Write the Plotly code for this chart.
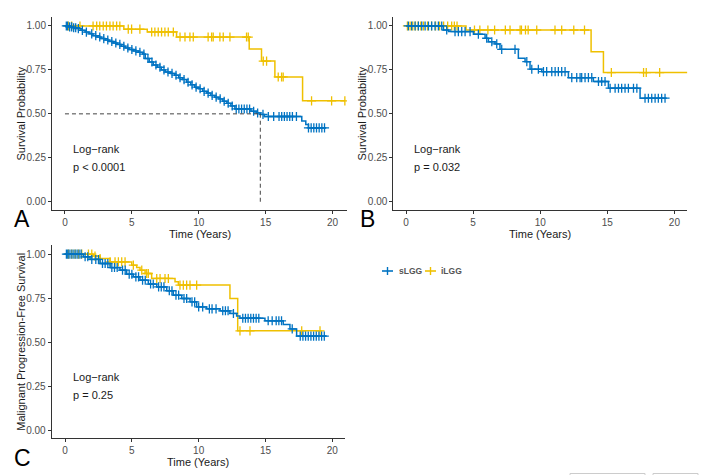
import numpy as np
import plotly.graph_objects as go

W, H = 711, 475
BLUE = "#0073C2"
YELLOW = "#EFC000"
FONT = "Liberation Sans, Arial, sans-serif"

# ---------------- data ----------------
groups = ["sLGG", "iLGG"]

# Panel A: overall survival
a_slgg_t = [0.3, 0.6, 0.9, 1.2, 1.5, 1.8, 2.1, 2.4, 2.7, 3.0, 3.3, 3.6, 3.9, 4.2, 4.5, 4.8, 5.1, 5.5, 5.8,
            6.0, 6.3, 6.6, 6.9, 7.2, 7.5, 7.9, 8.2, 8.5, 8.8, 9.1, 9.4, 9.7, 10.0, 10.3, 10.6, 10.9, 11.2,
            11.5, 11.8, 12.1, 12.4, 12.7, 13.9, 14.3, 14.6, 14.9, 17.7, 18.0, 18.2]
a_slgg_s = [0.995, 0.99, 0.985, 0.975, 0.965, 0.955, 0.945, 0.937, 0.928, 0.92, 0.912, 0.903, 0.895, 0.885,
            0.875, 0.866, 0.858, 0.85, 0.84, 0.815, 0.795, 0.778, 0.765, 0.75, 0.738, 0.73, 0.72, 0.705,
            0.695, 0.68, 0.665, 0.652, 0.643, 0.628, 0.618, 0.605, 0.595, 0.585, 0.572, 0.56, 0.545, 0.528,
            0.515, 0.505, 0.497, 0.485, 0.46, 0.44, 0.42]
a_slgg_end = 19.5
a_slgg_cens = [0.1, 0.2, 0.35, 0.5, 0.65, 0.8, 1.0, 1.3, 1.6, 2.0, 2.3, 2.6, 2.9, 3.2, 3.5, 3.8, 4.1, 4.4,
               4.7, 5.0, 5.3, 5.6, 5.9, 6.2, 6.5, 6.8, 7.1, 7.4, 7.7, 8.0, 8.3, 8.6, 8.9, 9.2, 9.5, 9.8,
               10.1, 10.4, 10.7, 11.0, 11.3, 11.6, 11.9, 12.2, 12.5, 12.8, 13.0, 13.2, 13.4, 13.6, 13.8,
               14.1, 14.4, 14.8, 15.2, 15.6, 16.0, 16.2, 16.4, 16.6, 16.8, 17.0, 17.3, 18.2, 18.4, 18.6,
               18.8, 19.0, 19.2, 19.4]

a_ilgg_t = [4.4, 6.15, 8.34, 13.77, 14.69, 15.69, 17.76]
a_ilgg_s = [0.982, 0.966, 0.937, 0.869, 0.80, 0.71, 0.574]
a_ilgg_end = 20.92
a_ilgg_cens = [0.25, 0.5, 1.12, 2.1, 2.37, 2.6, 2.86, 3.1, 3.36, 3.6, 3.86, 4.1, 4.73, 4.98, 5.6, 6.48,
               6.72, 6.97, 7.22, 7.47, 7.72, 8.1, 8.6, 8.97, 9.34, 9.59, 10.7, 10.96, 11.08, 11.58, 11.83,
               12.33, 13.57, 13.7, 14.82, 15.07, 15.94, 16.19, 16.31, 18.43, 19.93, 20.92]
a_median = 14.6

# Panel B
b_slgg_t = [2.78, 3.16, 5.02, 5.89, 6.14, 6.63, 7.0, 8.37, 8.87, 9.24, 10.11, 12.1, 13.96, 15.08, 17.44]
b_slgg_s = [0.977, 0.968, 0.953, 0.93, 0.91, 0.898, 0.867, 0.816, 0.797, 0.754, 0.74, 0.706, 0.684,
            0.646, 0.589]
b_slgg_end = 19.43
b_slgg_cens = [0.17, 0.42, 0.67, 0.92, 1.17, 1.42, 1.67, 1.91, 2.16, 2.41, 2.66, 3.03, 3.65, 3.9, 4.15,
               4.4, 4.77, 5.39, 6.01, 6.39, 6.76, 7.13, 8.12, 9.0, 9.37, 9.86, 10.24, 10.48, 10.86, 11.11,
               11.35, 11.6, 11.85, 12.35, 12.72, 12.97, 13.09, 13.34, 13.59, 13.84, 14.34, 14.58, 14.83,
               15.21, 15.58, 15.83, 16.07, 16.32, 16.57, 16.95, 17.2, 17.81, 18.06, 18.31, 18.56, 18.8,
               19.05, 19.3]

b_ilgg_t = [4.47, 13.79, 14.71]
b_ilgg_s = [0.977, 0.854, 0.735]
b_ilgg_end = 20.97
b_ilgg_cens = [0.1, 0.3, 0.5, 0.7, 0.9, 1.1, 1.3, 1.6, 1.9, 2.2, 2.5, 2.8, 3.1, 3.4, 3.6, 3.8, 5.1, 5.5,
               6.1, 6.6, 7.4, 7.75, 8.5, 8.6, 8.9, 9.1, 9.74, 11.1, 11.6, 12.5, 13.3, 15.3, 17.7, 17.9, 18.9]

# Panel C: malignant progression-free survival
c_slgg_t = [1.37, 1.87, 2.62, 3.37, 4.11, 4.61, 5.11, 5.61, 6.23, 6.86, 7.61, 8.1, 8.73, 9.35, 9.85,
            10.6, 11.6, 12.34, 12.84, 13.09, 14.96, 16.33, 16.83, 17.33]
c_slgg_s = [0.985, 0.97, 0.947, 0.924, 0.909, 0.886, 0.871, 0.852, 0.83, 0.814, 0.792, 0.767, 0.748,
            0.729, 0.70, 0.689, 0.678, 0.663, 0.648, 0.636, 0.621, 0.60, 0.575, 0.534]
c_slgg_end = 19.58
c_slgg_cens = [0.1, 0.2, 0.3, 0.45, 0.6, 0.75, 0.9, 1.05, 1.2, 1.5, 1.7, 2.0, 2.3, 2.5, 2.8, 3.0, 3.2,
               3.5, 3.7, 3.9, 4.3, 4.5, 4.8, 5.0, 5.3, 5.5, 5.8, 6.0, 6.4, 6.6, 7.0, 7.2, 7.4, 7.8, 8.0,
               8.3, 8.5, 8.9, 9.1, 9.5, 9.7, 10.0, 10.3, 10.8, 11.0, 11.3, 11.8, 12.0, 12.2, 12.6, 13.3,
               13.5, 13.7, 13.9, 14.1, 14.3, 14.5, 15.2, 15.5, 15.8, 16.0, 16.2, 17.0, 17.6, 17.8, 18.0,
               18.2, 18.4, 18.6, 18.8, 19.0, 19.2, 19.4]

c_ilgg_t = [2.12, 2.62, 3.37, 4.99, 5.36, 5.61, 5.99, 6.48, 8.23, 8.48, 12.34, 12.92]
c_ilgg_s = [0.989, 0.975, 0.956, 0.9375, 0.924, 0.909, 0.89, 0.862, 0.843, 0.824, 0.748, 0.564]
c_ilgg_end = 19.2
c_ilgg_cens = [0.25, 0.5, 0.75, 1.0, 1.25, 1.75, 2.0, 2.24, 2.62, 3.37, 3.74, 3.99, 4.24, 4.49, 5.11,
               5.74, 6.11, 6.23, 6.86, 7.11, 7.48, 7.73, 8.6, 8.85, 9.1, 9.35, 9.85, 13.09, 13.84, 17.71,
               19.08]

pvals = ["p < 0.0001", "p = 0.032", "p = 0.25"]
xtitle = "Time (Years)"
ytitles = ["Survival Probability", "Survival Probability", "Malignant Progression-Free Survival"]
letters = ["A", "B", "C"]
xticks = [0, 5, 10, 15, 20]
yticks = [0, 0.25, 0.5, 0.75, 1.0]
yticklabels = ["0.00", "0.25", "0.50", "0.75", "1.00"]

# ---------------- figure ----------------
fig = go.Figure()


def surv_at(times, survs, t):
    t_arr = np.asarray(times)
    s_arr = np.concatenate([[1.0], np.asarray(survs)])
    idx = np.searchsorted(t_arr, np.asarray(t), side="right")
    return s_arr[idx]


def add_km(times, survs, end, cens, color, xa, ya, name):
    x = [0.0] + list(times) + [end]
    y = [1.0] + list(survs) + [survs[-1]]
    fig.add_trace(go.Scatter(x=x, y=y, mode="lines", line=dict(color=color, width=1.5, shape="hv"),
                             xaxis=xa, yaxis=ya, name=name, showlegend=False, hoverinfo="skip"))
    fig.add_trace(go.Scatter(x=cens, y=surv_at(times, survs, cens), mode="markers",
                             marker=dict(symbol="cross-thin", size=6.5, line=dict(color=color, width=1.3)),
                             xaxis=xa, yaxis=ya, name=name, showlegend=False, hoverinfo="skip"))


panels = [
    ("x", "y", (a_slgg_t, a_slgg_s, a_slgg_end, a_slgg_cens), (a_ilgg_t, a_ilgg_s, a_ilgg_end, a_ilgg_cens)),
    ("x2", "y2", (b_slgg_t, b_slgg_s, b_slgg_end, b_slgg_cens), (b_ilgg_t, b_ilgg_s, b_ilgg_end, b_ilgg_cens)),
    ("x3", "y3", (c_slgg_t, c_slgg_s, c_slgg_end, c_slgg_cens), (c_ilgg_t, c_ilgg_s, c_ilgg_end, c_ilgg_cens)),
]
for xa, ya, s_data, i_data in panels:
    add_km(*i_data, YELLOW, xa, ya, groups[1])
    add_km(*s_data, BLUE, xa, ya, groups[0])


# pixel geometry -> paper
def px(x):
    return x / W


def py(y):
    return 1 - y / H


# (x domain px, y domain px(top,bottom), xrange, yrange, xtitle y px, ytitle x px)
geo = [
    ((52, 347), (17, 210), [-0.97, 21.08], [-0.047, 1.051], 233.5, 21),
    ((393.3, 687.3), (17, 210), [-0.95, 20.96], [-0.047, 1.051], 233.5, 362),
    ((51.7, 345), (245.2, 438.3), [-1.0, 20.95], [-0.047, 1.051], 462, 21),
]

axis_common = dict(showline=True, linecolor="#333333", linewidth=1, ticks="outside", ticklen=3,
                   tickwidth=1, tickcolor="#333333", showgrid=False, zeroline=False,
                   tickfont=dict(family=FONT, size=10, color="#4d4d4d"))
title_font = dict(family=FONT, size=11, color="#1a1a1a")

layout = dict(width=W, height=H, margin=dict(l=0, r=0, t=0, b=0), plot_bgcolor="white",
              paper_bgcolor="white", showlegend=False, font=dict(family=FONT))
for i, ((x0, x1), (yt, yb), xr, yr, xty, ytx) in enumerate(geo):
    sfx = "" if i == 0 else str(i + 1)
    layout["xaxis" + sfx] = dict(axis_common, domain=[px(x0), px(x1)], range=xr, tickvals=xticks,
                                 anchor="y" + sfx)
    layout["yaxis" + sfx] = dict(axis_common, domain=[py(yb), py(yt)], range=yr, tickvals=yticks,
                                 ticktext=yticklabels, anchor="x" + sfx)
fig.update_layout(**layout)

# axis titles as annotations (precise placement)
for i, ((x0, x1), (yt, yb), xr, yr, xty, ytx) in enumerate(geo):
    fig.add_annotation(x=px((x0 + x1) / 2), y=py(xty), xref="paper", yref="paper", text=xtitle,
                       showarrow=False, xanchor="center", yanchor="middle", font=title_font)
    fig.add_annotation(x=px(ytx), y=py((yt + yb) / 2), xref="paper", yref="paper", text=ytitles[i],
                       showarrow=False, xanchor="center", yanchor="middle", textangle=-90, font=title_font)

# Log-rank annotations
for i, sfx in enumerate(["", "2", "3"]):
    fig.add_annotation(x=0.43, y=0.30, xref="x" + sfx, yref="y" + sfx, text="Log\u2212rank",
                       showarrow=False, xanchor="left", yanchor="middle",
                       font=dict(family=FONT, size=11, color="#1a1a1a"))
    fig.add_annotation(x=0.43, y=0.198, xref="x" + sfx, yref="y" + sfx, text=pvals[i],
                       showarrow=False, xanchor="left", yanchor="middle",
                       font=dict(family=FONT, size=11, color="#1a1a1a"))

# median lines in A
fig.add_shape(type="line", xref="x", yref="y", x0=0, x1=a_median, y0=0.5, y1=0.5,
              line=dict(color="#444444", width=1, dash="4px,3px"))
fig.add_shape(type="line", xref="x", yref="y", x0=a_median, x1=a_median, y0=0, y1=0.5,
              line=dict(color="#444444", width=1, dash="4px,3px"))

# panel letters
for lab, (lx, ly) in zip(letters, [(12, 219), (358, 219), (12, 458)]):
    fig.add_annotation(x=px(lx), y=py(ly), xref="paper", yref="paper", text=lab, showarrow=False,
                       xanchor="left", yanchor="middle", font=dict(family=FONT, size=23, color="black"))

# manual legend
leg_y = py(271)
for name, color, (sx0, sx1, tx) in zip(groups, [BLUE, YELLOW], [(382, 393, 397), (425, 436, 439)]):
    fig.add_shape(type="line", xref="paper", yref="paper", x0=px(sx0), x1=px(sx1), y0=leg_y, y1=leg_y,
                  line=dict(color=color, width=1.6))
    cx = (sx0 + sx1) / 2
    fig.add_shape(type="line", xref="paper", yref="paper", x0=px(cx), x1=px(cx), y0=py(267), y1=py(275),
                  line=dict(color=color, width=1.4))
    fig.add_annotation(x=px(tx), y=leg_y, xref="paper", yref="paper", text="<b>%s</b>" % name,
                       showarrow=False, xanchor="left", yanchor="middle",
                       font=dict(family=FONT, size=8.5, color="#555555"))

# UI button outlines at bottom right (partially cut)
for bx0, bx1 in [(570, 645), (653, 698)]:
    fig.add_shape(type="rect", xref="paper", yref="paper", x0=px(bx0), x1=px(bx1), y0=py(482), y1=py(473.5),
                  line=dict(color="#cccccc", width=1))

fig.write_html("out.html")
